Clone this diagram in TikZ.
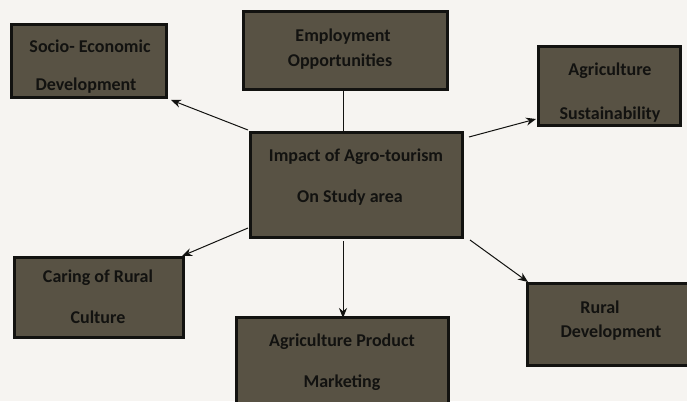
\documentclass[tikz,border=0pt]{standalone}
\usepackage{fontspec}
\setmainfont{Carlito}
\usetikzlibrary{arrows.meta}
\definecolor{boxfill}{RGB}{88,82,68}
\definecolor{paper}{RGB}{246,244,241}
\definecolor{ink}{RGB}{18,18,16}
\tikzset{
  box/.style={draw=ink, line width=3pt, fill=boxfill, inner sep=0pt},
  txt/.style={text=ink, font=\bfseries\fontsize{18}{20}\selectfont, inner sep=0pt},
  conn/.style={draw=ink, line width=1pt},
  arr/.style={conn, -{Stealth[length=10pt,width=8pt]}}
}
\begin{document}
\begin{tikzpicture}[x=1pt,y=-1pt]
\fill[paper] (0,0) rectangle (687,401);
\useasboundingbox (0,0) rectangle (687,401);
% boxes
\node[box, minimum width=155pt, minimum height=73pt] (soc) at (88.5,61.5) {};
\node[box, minimum width=204pt, minimum height=78pt] (emp) at (345,51) {};
\node[box, minimum width=142pt, minimum height=78pt] (ags) at (609,86) {};
\node[box, minimum width=212pt, minimum height=105pt] (imp) at (356,184.5) {};
\node[box, minimum width=169pt, minimum height=80pt] (car) at (98.5,297) {};
\node[box, minimum width=212pt, minimum height=90pt] (apm) at (342,362) {};
\node[box, minimum width=162pt, minimum height=82pt] (rur) at (608,324) {};
% texts
\node[txt] (socA) at (90,46) {Socio- Economic};
\node[txt] (socB) at (86,86) {Development};
\node[txt] (empA) at (343,37) {Employment};
\node[txt] (empB) at (340,62) {Opportunities};
\node[txt] (agsA) at (610,71) {Agriculture};
\node[txt] (agsB) at (610,115) {Sustainability};
\node[txt] (impA) at (356,157) {Impact of Agro-tourism};
\node[txt] (impB) at (350,198) {On Study area};
\node[txt] (carA) at (98,278) {Caring of Rural};
\node[txt] (carB) at (98,317) {Culture};
\node[txt] (apmA) at (342,342) {Agriculture Product};
\node[txt] (apmB) at (342,383) {Marketing};
\node[txt] (rurA) at (600,307) {Rural};
\node[txt] (rurB) at (611,333) {Development};
% connectors
\coordinate (s1) at (248,130);
\coordinate (s2) at (469,137);
\coordinate (s3) at (248,228);
\coordinate (s4) at (343,241);
\coordinate (s5) at (470,240);
\coordinate (e1) at (171,100);
\coordinate (e2) at (536,119);
\coordinate (e3) at (182,256);
\coordinate (e4) at (343,318);
\coordinate (e5) at (528,282);
\draw[conn] (emp.south -| s4) -- (imp.north -| s4);
\draw[arr] (s1) -- (e1);
\draw[arr] (s2) -- (e2);
\draw[arr] (s3) -- (e3);
\draw[arr] (s4) -- (e4);
\draw[arr] (s5) -- (e5);
\end{tikzpicture}
\end{document}
